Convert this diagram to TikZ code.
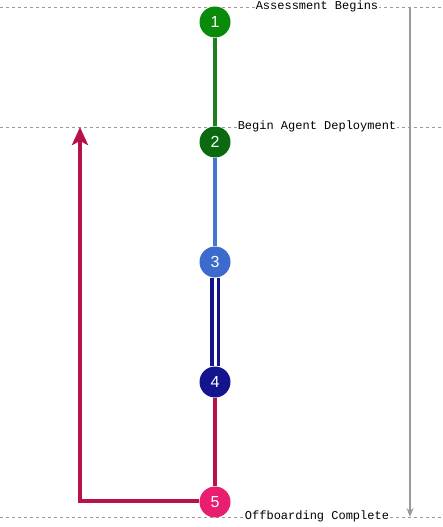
\documentclass[tikz,border=0pt]{standalone}
\usepackage{fontspec}
\setmainfont{Liberation Sans}
\newfontfamily\monofnt{Liberation Mono}
\usetikzlibrary{arrows.meta}
\definecolor{cgreenA}{HTML}{0A8A0A}
\definecolor{cgreenB}{HTML}{0B6A0F}
\definecolor{cgreenL}{HTML}{1E7F1E}
\definecolor{cblue}{HTML}{3A6BCD}
\definecolor{cbluel}{HTML}{4674D2}
\definecolor{cnavy}{HTML}{14148F}
\definecolor{cpink}{HTML}{E91E6E}
\definecolor{ccrim}{HTML}{B8124A}
\definecolor{cdash}{HTML}{9A9A9A}
\begin{document}
\begin{tikzpicture}[x=1pt,y=-1pt,
  stepnode/.style={circle,minimum size=31pt,inner sep=0pt,text=white,font=\fontsize{16}{16}\selectfont},
  milestone/.style={fill=white,inner sep=1pt,font=\monofnt\fontsize{12}{12}\selectfont},
  guide/.style={cdash,dash pattern=on 3pt off 3pt,line width=0.8pt},
  conn/.style={line width=3.6pt}]
\useasboundingbox (0,0) rectangle (442,527);
% guides
\draw[guide] (0,7) -- (442,7);
\draw[guide] (0,127) -- (442,127);
\draw[guide] (0,517) -- (442,517);
\node[milestone] (m1) at (317,6) {Assessment Begins};
\node[milestone] (m2) at (317,126) {Begin Agent Deployment};
\node[milestone] (m3) at (317,516) {Offboarding Complete};
% timeline arrow
\coordinate (ta) at (410,7);
\coordinate (tb) at (410,517);
\draw[cdash,line width=1.3pt,-{Stealth[length=9pt,width=7pt]}] (ta) -- (tb);
% nodes
\node[stepnode,fill=cgreenA] (n1) at (215,22) {1};
\node[stepnode,fill=cgreenB] (n2) at (215,142) {2};
\node[stepnode,fill=cblue] (n3) at (215,262) {3};
\node[stepnode,fill=cnavy] (n4) at (215,382) {4};
\node[stepnode,fill=cpink] (n5) at (215,502) {5};
% connectors
\draw[conn,cgreenL] (n1) -- (n2);
\draw[conn,cbluel] (n2) -- (n3);
\draw[cnavy,line width=10pt] (n3) -- (n4);
\draw[white,line width=3pt] (n3.south) -- (n4.north);
\draw[conn,ccrim] (n4) -- (n5);
\coordinate (rc) at (80,501);
\coordinate (rt) at (80,127);
\draw[conn,ccrim,-{Stealth[length=18pt,width=16pt,inset=4pt]}] (n5.west|-rc) -- (rc) -- (rt);
\end{tikzpicture}
\end{document}
